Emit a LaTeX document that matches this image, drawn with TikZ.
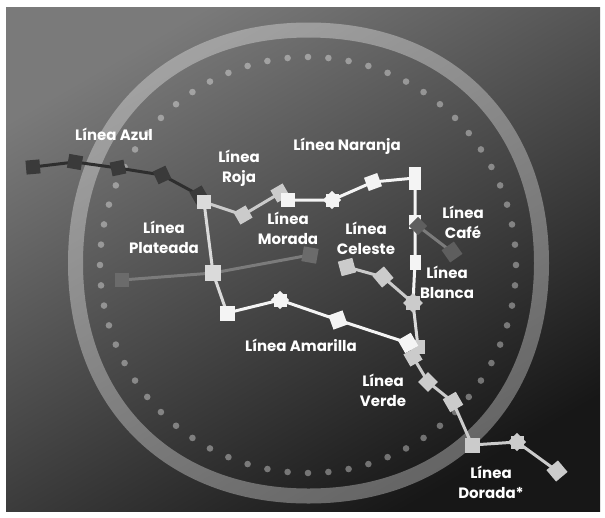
\documentclass[tikz,border=0pt]{standalone}
\usepackage{fontspec}
\setmainfont{Poppins}
\definecolor{bgTop}{HTML}{7A7A7A}
\definecolor{bgBot}{HTML}{171717}
\definecolor{cW}{HTML}{F4F4F4}
\definecolor{cL}{HTML}{CBCBCB}
\definecolor{cLl}{HTML}{DADADA}
\definecolor{cAz}{HTML}{3A3A3A}
\definecolor{cAzL}{HTML}{2E2E2E}
\definecolor{cGr}{HTML}{6B6B6B}
\definecolor{cGrL}{HTML}{7B7B7B}
\definecolor{cCf}{HTML}{5E5E5E}
\pgfdeclarelayer{back}
\pgfdeclarelayer{edges}
\pgfsetlayers{back,edges,main}
\begin{document}
\begin{tikzpicture}[x=1pt,y=-1pt,
  stn/.style={rectangle, minimum size=14pt, inner sep=0pt, draw=none},
  wst/.style={stn, fill=cW},
  lst/.style={stn, fill=cL},
  pst/.style={stn, fill=cLl},
  ast/.style={stn, fill=cAz},
  gst/.style={stn, fill=cGr},
  cst/.style={stn, fill=cCf},
  wline/.style={draw=cW, line width=3pt},
  lline/.style={draw=cL, line width=3pt},
  pline/.style={draw=cLl, line width=3pt},
  aline/.style={draw=cAzL, line width=3pt},
  gline/.style={draw=cGrL, line width=3pt},
  lab/.style={text=white, font=\bfseries\fontsize{15}{20}\selectfont, align=center, inner sep=0pt}
]
\useasboundingbox (0,0) rectangle (605,517);
\begin{pgfonlayer}{back}
\fill[white] (0,0) rectangle (605,517);
\shade[top color=bgTop, bottom color=bgBot, shading angle=30] (6,7) rectangle (600,511);
\draw[white, draw opacity=0.33, line width=15pt]
  (541.5,263) .. controls (541.5,402.8) and (448.3,496) .. (308.5,496)
  .. controls (168.7,496) and (75.5,402.8) .. (75.5,263)
  .. controls (75.5,123.2) and (168.7,30) .. (308.5,30)
  .. controls (448.3,30) and (541.5,123.2) .. (541.5,263) -- cycle;
\foreach \i in {0,...,63}
  \fill[white, fill opacity=0.37] ({308+208*cos(\i*5.625)},{265+208*sin(\i*5.625)}) circle (3.3);
\end{pgfonlayer}

% stations
\node[ast, rotate=5] (a1) at (33,167) {};
\node[ast, rotate=-10] (a2) at (75,162) {};
\node[ast, rotate=12] (a3) at (118,168) {};
\node[ast, rotate=25] (a4) at (162,175) {};
\node[ast, rotate=30] (a5) at (199,195) {};
\node[pst] (p1) at (204,202) {};
\node[lst, rotate=30] (r1) at (243,215) {};
\node[lst, rotate=30] (r2) at (280,193) {};
\node[wst] (n1) at (288,200) {};
\node[wst, minimum size=13pt] (n2) at (332,200) {};
\node[wst, minimum size=13pt, rotate=45] (n2b) at (332,200) {};
\node[wst, rotate=20] (n3) at (373,182) {};
\node[wst, minimum width=12pt, minimum height=23pt] (n4) at (415,178) {};
\node[wst, minimum width=12pt, minimum height=14pt] (b1) at (415,222) {};
\node[cst, minimum size=13pt, rotate=45] (c1) at (418,226) {};
\node[cst, minimum size=15pt, rotate=35] (c2) at (452,252) {};
\node[wst, minimum width=11pt, minimum height=15pt] (b2) at (415,262) {};
\node[lst, minimum size=15pt, rotate=15] (ce1) at (347,267) {};
\node[lst, minimum size=15pt, rotate=40] (ce2) at (383,277) {};
\node[lst] (b3) at (413,303) {};
\node[lst, rotate=45] (b3b) at (413,303) {};
\node[gst] (m1) at (122,280) {};
\node[pst, minimum size=16pt] (p2) at (213,273) {};
\node[gst, minimum size=15pt, rotate=-10] (m2) at (310,255) {};
\node[wst, minimum size=15pt] (p3) at (227,313) {};
\node[wst, minimum size=13pt] (y1) at (280,300) {};
\node[wst, minimum size=13pt, rotate=45] (y1b) at (280,300) {};
\node[wst, minimum size=15pt, rotate=20] (y2) at (338,320) {};
\node[lst] (b4) at (418,347) {};
\node[wst, minimum size=15pt, rotate=30] (y3) at (408,343) {};
\node[lst, rotate=30] (v1) at (413,357) {};
\node[lst, rotate=45] (v2) at (428,382) {};
\node[lst, minimum size=15pt, rotate=30] (v3) at (453,402) {};
\node[lst, minimum size=15pt] (d1) at (472,445) {};
\node[lst, minimum size=13pt] (d2) at (517,442) {};
\node[lst, minimum size=13pt, rotate=45] (d2b) at (517,442) {};
\node[lst, minimum size=15pt, rotate=40] (d3) at (557,471) {};

\begin{pgfonlayer}{edges}
\draw[aline] (a1.center) -- (a2.center) -- (a3.center) -- (a4.center) -- (a5.center) -- (p1.center);
\draw[pline] (p1.center) -- (p2.center) -- (p3.center);
\draw[lline] (p1.center) -- (r1.center) -- (r2.center);
\draw[wline] (n1.center) -- (n2.center) -- (n3.center) -- (n4.center) -- (b1.center) -- (b2.center) -- (b3.center);
\draw[pline] (b3.center) -- (b4.center);
\draw[gline] (c1.center) -- (c2.center);
\draw[lline] (ce1.center) -- (ce2.center) -- (b3.center);
\draw[gline] (m1.center) -- (p2.center) -- (m2.center);
\draw[wline] (p3.center) -- (y1.center) -- (y2.center) -- (y3.center);
\draw[lline] (b4.center) -- (v1.center) -- (v2.center) -- (v3.center) -- (d1.center) -- (d2.center) -- (d3.center);
\end{pgfonlayer}

% labels
\node[lab] (tAzul) at (114,134) {Línea Azul};
\node[lab] (tRoja) at (239,168) {Línea\\Roja};
\node[lab] (tNar) at (347,146) {Línea Naranja};
\node[lab] (tMor) at (288,228) {Línea\\Morada};
\node[lab] (tPla) at (164,237) {Línea\\Plateada};
\node[lab] (tCel) at (366,238) {Línea\\Celeste};
\node[lab] (tCaf) at (463,222) {Línea\\Café};
\node[lab] (tBla) at (447,282) {Línea\\Blanca};
\node[lab] (tAma) at (301,345) {Línea Amarilla};
\node[lab] (tVer) at (383,390) {Línea\\Verde};
\node[lab] (tDor) at (491,482) {Línea\\Dorada*};
\end{tikzpicture}
\end{document}
